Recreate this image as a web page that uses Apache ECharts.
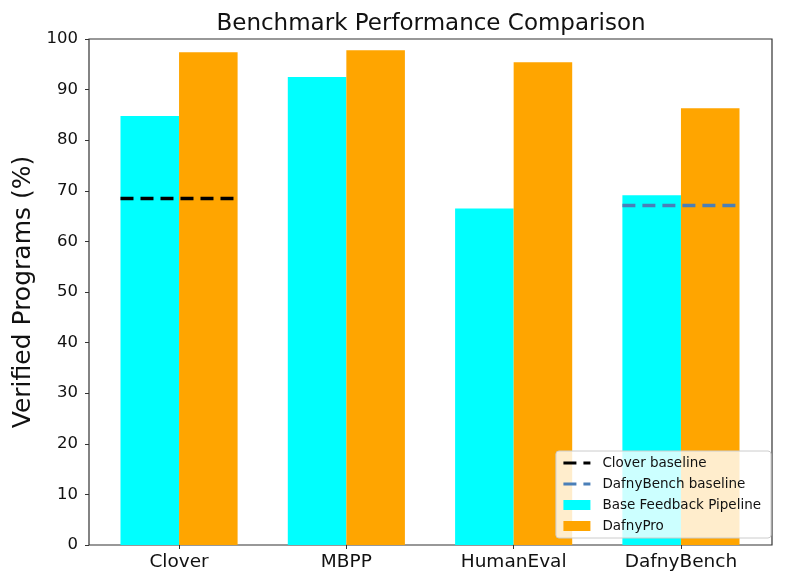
<!DOCTYPE html>
<html>
<head>
<meta charset="utf-8">
<script src="https://cdn.jsdelivr.net/npm/echarts@6/dist/echarts.min.js"></script>
<style>html,body{margin:0;padding:0;background:#fff}#c{width:796px;height:587px}</style>
</head>
<body>
<div id="c"></div>
<script>
var categories = ['Clover', 'MBPP', 'HumanEval', 'DafnyBench'];
var baseFeedback = [84.8, 92.5, 66.5, 69.1];
var dafnyPro = [97.4, 97.8, 95.4, 86.3];
var cloverBaseline = 68.5;   // drawn over the Clover group
var dafnyBenchBaseline = 67.1; // drawn over the DafnyBench group
var yTicks = [0, 10, 20, 30, 40, 50, 60, 70, 80, 90, 100];

var barFrac = 0.35;
function groupSpan(catName, value) {
  var i = categories.indexOf(catName);
  return [[i - barFrac, value], [i + barFrac, value]];
}
var FONT = 'DejaVu Sans';
var chart = echarts.init(document.getElementById('c'));
chart.setOption({
  backgroundColor: '#fff',
  animation: false,
  title: {
    text: 'Benchmark Performance Comparison',
    left: 426, top: 8, textAlign: 'center',
    textStyle: { fontFamily: FONT, fontSize: 23, fontWeight: 'normal', color: '#111' }
  },
  grid: [
    { left: 89, right: 24, top: 39, bottom: 42, show: true, borderColor: '#333', borderWidth: 1.2, backgroundColor: 'transparent', containLabel: false },
    { left: 95.4, right: 31.4, top: 39, bottom: 42, containLabel: false }
  ],
  xAxis: [
    { gridIndex: 0, type: 'value', min: 0, max: 1, show: false },
    { gridIndex: 1, type: 'category', data: categories,
      axisLine: { show: false },
      axisTick: { show: true, alignWithLabel: true, length: 4, lineStyle: { color: '#333' } },
      axisLabel: { fontFamily: FONT, fontSize: 18.5, color: '#111', margin: 8 } },
    { gridIndex: 1, type: 'value', min: -0.5, max: 3.5, show: false }
  ],
  yAxis: [
    { gridIndex: 0, type: 'value', min: 0, max: 100, interval: 10,
      name: 'Verified Programs (%)', nameLocation: 'middle', nameGap: 52,
      nameTextStyle: { fontFamily: FONT, fontSize: 25, color: '#111' },
      axisLine: { show: false },
      axisTick: { show: true, length: 4, lineStyle: { color: '#333' } },
      axisLabel: { fontFamily: FONT, fontSize: 16.5, color: '#111', margin: 11,
        formatter: function (v) { return yTicks.indexOf(v) >= 0 ? String(v) : ''; } },
      splitLine: { show: false } },
    { gridIndex: 1, type: 'value', min: 0, max: 100, show: false }
  ],
  legend: {
    orient: 'vertical', right: 25, bottom: 49,
    data: [
      { name: 'Clover baseline', itemStyle: { opacity: 0 }, lineStyle: { width: 3, type: [13, 7] } },
      { name: 'DafnyBench baseline', itemStyle: { opacity: 0 }, lineStyle: { width: 3, type: [13, 7] } },
      { name: 'Base Feedback Pipeline', icon: 'rect' },
      { name: 'DafnyPro', icon: 'rect' }
    ],
    itemWidth: 27, itemHeight: 10, itemGap: 7,
    textStyle: { fontFamily: FONT, fontSize: 13.5, color: '#111', padding: [0, 0, 0, 7] },
    backgroundColor: 'rgba(255,255,255,0.8)', borderColor: '#ccc', borderWidth: 1, borderRadius: 3,
    padding: [5, 10, 5, 6]
  },
  series: [
    { name: 'Base Feedback Pipeline', type: 'bar', xAxisIndex: 1, yAxisIndex: 1,
      data: baseFeedback, barWidth: '35%', barGap: '0%', itemStyle: { color: '#00ffff' }, z: 2 },
    { name: 'DafnyPro', type: 'bar', xAxisIndex: 1, yAxisIndex: 1,
      data: dafnyPro, barWidth: '35%', barGap: '0%', itemStyle: { color: '#ffa500' }, z: 2 },
    { name: 'Clover baseline', type: 'line', xAxisIndex: 2, yAxisIndex: 1,
      data: groupSpan('Clover', cloverBaseline), symbol: 'none', z: 5,
      lineStyle: { color: '#000', width: 3.5, type: [13, 7] }, itemStyle: { color: '#000' } },
    { name: 'DafnyBench baseline', type: 'line', xAxisIndex: 2, yAxisIndex: 1,
      data: groupSpan('DafnyBench', dafnyBenchBaseline), symbol: 'none', z: 5,
      lineStyle: { color: '#4a7fb8', width: 3.5, type: [13, 7] }, itemStyle: { color: '#4a7fb8' } }
  ]
});
</script>
</body>
</html>
